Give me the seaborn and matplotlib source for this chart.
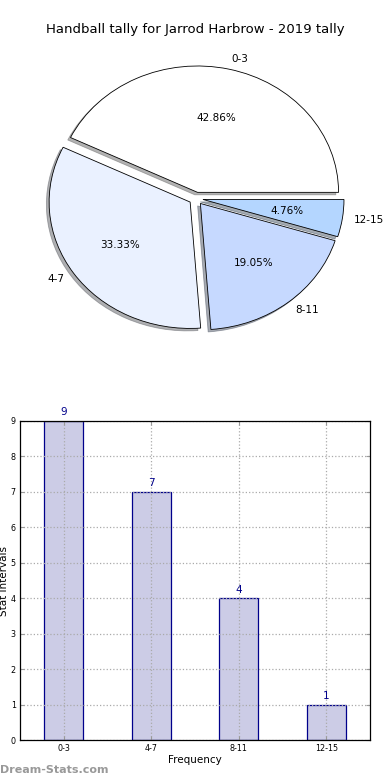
import matplotlib
matplotlib.use('Agg')
import matplotlib.pyplot as plt
import pandas as pd
import seaborn as sns

# data
intervals = ['0-3', '4-7', '8-11', '12-15']
counts = [9, 7, 4, 1]
slice_colors = ['#ffffff', '#eaf1ff', '#c6d9ff', '#b4d6ff']

sns.set_style('white')
plt.rcParams['font.family'] = ['DejaVu Sans']
plt.rcParams['text.color'] = 'black'
plt.rcParams['axes.labelcolor'] = 'black'
plt.rcParams['xtick.color'] = 'black'
plt.rcParams['ytick.color'] = 'black'

fig = plt.figure(figsize=(3.9, 7.8), dpi=100)

# pie on top (old-style, not forced round)
ax = fig.add_axes([0.0487, 0.543, 0.904, 0.405])
ax.pie(counts, labels=intervals, colors=slice_colors, autopct='%1.2f%%',
       explode=[0.05] * len(counts),
       shadow={'ox': -0.014, 'oy': -0.014, 'shade': 0.6},
       startangle=0, counterclock=True, labeldistance=1.08,
       wedgeprops={'edgecolor': 'black', 'linewidth': 0.6},
       textprops={'fontsize': 7.5, 'color': 'black'})
ax.set_aspect('auto')
ax.set_xlim(-1.255, 1.245)
ax.set_ylim(-1.25, 1.25)
ax.axis('off')
fig.text(0.5, 1 - 30 / 780, 'Handball tally for Jarrod Harbrow - 2019 tally',
         ha='center', va='center', fontsize=9.5)

# bar chart below
df = pd.DataFrame({'interval': intervals, 'count': counts})
bx = fig.add_axes([20 / 390, 40 / 780, 350 / 390, 319 / 780])
sns.barplot(data=df, x='interval', y='count', color='#ccccE6', edgecolor='#00008b',
            linewidth=0.9, width=0.45, saturation=1, ax=bx)
for i, c in enumerate(counts):
    bx.text(i, c + 0.1, str(c), ha='center', va='bottom', fontsize=7.5, color='#00008b')
bx.set_xlim(-0.5, 3.5)
bx.set_ylim(0, 9)
bx.set_yticks(range(10))
bx.grid(True, linestyle=':', color='#aaaaaa', linewidth=0.9)
bx.set_axisbelow('line')
for s in bx.spines.values():
    s.set_color('black')
    s.set_linewidth(0.9)
bx.tick_params(axis='both', labelsize=5.8, direction='in', length=3, pad=3,
               color='#999999', top=True, right=True, bottom=True, left=True)
bx.set_xlabel('Frequency', fontsize=7.5, labelpad=1)
bx.set_ylabel('Stat Intervals', fontsize=7.5, labelpad=1)

fig.text(0.0, 1 - 770 / 780, 'Dream-Stats.com', ha='left', va='center',
         fontsize=8, color='#999999', fontweight='semibold')

fig.savefig('out.png', dpi=100)
